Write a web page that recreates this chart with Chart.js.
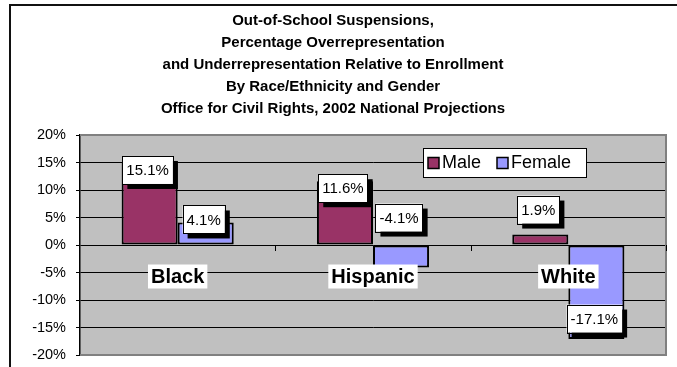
<!DOCTYPE html>
<html>
<head>
<meta charset="utf-8">
<script src="https://cdn.jsdelivr.net/npm/chart.js@4"></script>
<style>
  body { margin: 0; background: #fff; }
  #wrap { width: 677px; height: 367px; }
</style>
</head>
<body>
<div id="wrap"><canvas id="chart" width="677" height="367"></canvas></div>
<script>
// data
const groups = ['Black', 'Hispanic', 'White'];
const seriesNames = ['Male', 'Female'];
const male = [15.1, 11.6, 1.9];
const female = [4.1, -4.1, -17.1];
const yTicks = [-20, -15, -10, -5, 0, 5, 10, 15, 20];
const titleLines = [
  'Out-of-School Suspensions,',
  'Percentage Overrepresentation',
  'and Underrepresentation Relative to Enrollment',
  'By Race/Ethnicity and Gender',
  'Office for Civil Rights, 2002 National Projections'
];

const FONT = 'Arial, "Liberation Sans", sans-serif';
const colors = ['#993366', '#9999FF'];

// old-Excel look: grey plot, boxed labels with drop shadow, boxed legend
const excelLook = {
  id: 'excelLook',
  beforeDraw(chart) {
    const { ctx, chartArea: a } = chart;
    ctx.save();
    ctx.strokeStyle = '#111';
    ctx.lineWidth = 2;
    ctx.beginPath();
    ctx.moveTo(10, 400); ctx.lineTo(10, 5); ctx.lineTo(700, 5);
    ctx.stroke();
    ctx.fillStyle = '#c0c0c0';
    ctx.fillRect(a.left, a.top, a.right - a.left, a.bottom - a.top);
    ctx.restore();
  },
  beforeDatasetsDraw(chart) {
    const { ctx, chartArea: a, scales } = chart;
    const zero = scales.y.getPixelForValue(0);
    ctx.save();
    // grey frame top/right/bottom
    ctx.strokeStyle = '#808080';
    ctx.lineWidth = 2;
    ctx.beginPath();
    ctx.moveTo(a.left, a.top); ctx.lineTo(a.right, a.top);
    ctx.lineTo(a.right, a.bottom); ctx.lineTo(a.left, a.bottom);
    ctx.stroke();
    // category boundary ticks on the zero line
    ctx.strokeStyle = '#000';
    ctx.lineWidth = 1;
    const step = (a.right - a.left) / groups.length;
    for (let i = 1; i <= groups.length; i++) {
      const x = Math.round(a.left + i * step) + 0.5;
      ctx.beginPath(); ctx.moveTo(x, zero); ctx.lineTo(x, zero + 6); ctx.stroke();
    }
    ctx.restore();
  },
  afterDatasetsDraw(chart, args, opts) {
    const { ctx, scales } = chart;
    const zero = scales.y.getPixelForValue(0);
    ctx.save();
    ctx.textAlign = 'center';
    ctx.textBaseline = 'middle';

    // category names on white backing
    ctx.font = 'bold 20px ' + FONT;
    groups.forEach((g, i) => {
      const x = scales.x.getPixelForValue(i);
      const y = zero + 31.5;
      const w = ctx.measureText(g).width + 6;
      ctx.fillStyle = '#fff';
      ctx.fillRect(x - w / 2, y - 12, w, 24);
      ctx.fillStyle = '#000';
      ctx.fillText(g, x, y + 1);
    });

    // value labels, nudged like the hand-placed Excel labels
    ctx.font = '15px ' + FONT;
    chart.data.datasets.forEach((ds, d) => {
      const meta = chart.getDatasetMeta(d);
      meta.data.forEach((el, i) => {
        const txt = ds.data[i].toFixed(1) + '%';
        const w = ctx.measureText(txt).width + 8;
        const h = 28;
        const cx = el.x - 2;
        const cy = el.y + opts.nudge[d][i];
        ctx.fillStyle = '#000';
        ctx.fillRect(cx - w / 2 + 5, cy - h / 2 + 5, w, h);
        ctx.fillStyle = '#fff';
        ctx.fillRect(cx - w / 2, cy - h / 2, w, h);
        ctx.strokeStyle = '#000';
        ctx.lineWidth = 1;
        ctx.strokeRect(Math.round(cx - w / 2) + 0.5, Math.round(cy - h / 2) + 0.5, Math.round(w), h);
        ctx.fillStyle = '#000';
        ctx.fillText(txt, cx, cy + 1);
      });
    });
    ctx.restore();
  },
  afterDraw(chart, args, opts) {
    const { ctx } = chart;
    const L = opts.legend;
    ctx.save();
    ctx.fillStyle = '#fff';
    ctx.fillRect(L.x, L.y, L.w, L.h);
    ctx.strokeStyle = '#000';
    ctx.lineWidth = 1;
    ctx.strokeRect(L.x + 0.5, L.y + 0.5, L.w, L.h);
    ctx.font = '18px ' + FONT;
    ctx.textBaseline = 'middle';
    ctx.textAlign = 'left';
    const cy = L.y + L.h / 2 + 1;
    chart.data.datasets.forEach((ds, d) => {
      const mx = L.items[d];
      ctx.fillStyle = ds.backgroundColor;
      ctx.fillRect(mx, cy - 6, 11, 11);
      ctx.strokeStyle = '#000';
      ctx.lineWidth = 1.5;
      ctx.strokeRect(mx, cy - 6, 11, 11);
      ctx.fillStyle = '#000';
      ctx.fillText(ds.label, mx + 14, cy);
    });
    ctx.restore();
  }
};

new Chart(document.getElementById('chart'), {
  type: 'bar',
  data: {
    labels: groups,
    datasets: [
      { label: seriesNames[0], data: male, backgroundColor: colors[0], borderColor: '#000', borderWidth: 2, borderSkipped: false },
      { label: seriesNames[1], data: female, backgroundColor: colors[1], borderColor: '#000', borderWidth: 2, borderSkipped: false }
    ]
  },
  options: {
    responsive: false,
    animation: false,
    events: [],
    datasets: { bar: { categoryPercentage: 0.574, barPercentage: 1.0 } },
    layout: { padding: { left: 0, right: 11, bottom: 12 } },
    plugins: {
      legend: { display: false },
      tooltip: { enabled: false },
      title: {
        display: true,
        text: titleLines,
        color: '#000',
        font: { family: FONT, size: 15, weight: 'bold', lineHeight: 1.467 },
        padding: { top: 10, bottom: 15 }
      },
      excelLook: {
        nudge: [[8, 7, -25], [-3, -50, -20.5]],
        legend: { x: 423, y: 148, w: 163, h: 29, items: [428, 497] }
      }
    },
    scales: {
      x: { display: false },
      y: {
        min: yTicks[0],
        max: yTicks[yTicks.length - 1],
        ticks: {
          stepSize: yTicks[1] - yTicks[0],
          callback: v => v + '%',
          color: '#000',
          font: { family: FONT, size: 14.5 },
          padding: 10
        },
        grid: { color: '#000', tickColor: '#000', tickLength: 4, lineWidth: 1 },
        border: { color: '#000', width: 1.5 },
        afterFit(s) { s.width = 80; s.paddingTop = 0; s.paddingBottom = 0; }
      }
    }
  },
  plugins: [excelLook]
});
</script>
</body>
</html>
